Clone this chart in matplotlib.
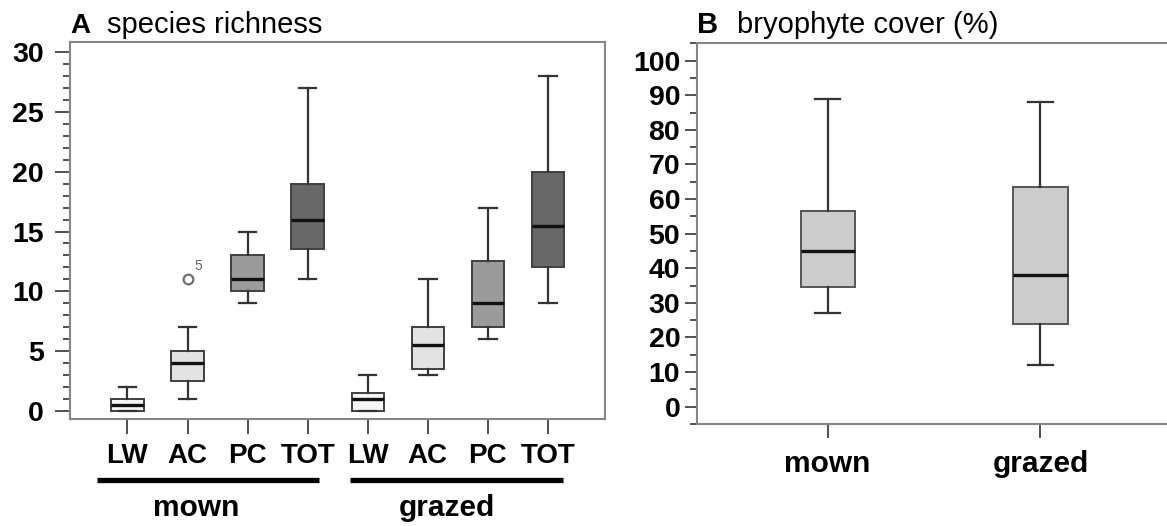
import matplotlib
matplotlib.use("Agg")
import matplotlib.pyplot as plt
from matplotlib.ticker import MultipleLocator

plt.rcParams['font.family'] = ['Liberation Sans', 'DejaVu Sans']

# ---------------- data ----------------
# Panel A: species richness
a_labels = ["LW", "AC", "PC", "TOT", "LW", "AC", "PC", "TOT"]
a_groups = ["mown", "grazed"]
a_whislo = [0, 1, 9, 11, 0, 3, 6, 9]
a_q1     = [0, 2.5, 10, 13.5, 0, 3.5, 7, 12]
a_med    = [0.5, 4, 11, 16, 1, 5.5, 9, 15.5]
a_q3     = [1, 5, 13, 19, 1.5, 7, 12.5, 20]
a_whishi = [2, 7, 15, 27, 3, 11, 17, 28]
a_fliers = [[], [11], [], [], [], [], [], []]
a_flier_label = "5"
a_colors = ["#f6f6f6", "#e3e3e3", "#9b9b9b", "#686868",
            "#f6f6f6", "#e3e3e3", "#9b9b9b", "#686868"]

# Panel B: bryophyte cover (%)
b_labels = ["mown", "grazed"]
b_whislo = [27, 12]
b_q1     = [34.5, 24]
b_med    = [45, 38]
b_q3     = [56.5, 63.5]
b_whishi = [89, 88]

W, H = 1167, 526
fig = plt.figure(figsize=(W / 100, H / 100), dpi=100)


def px_axes(left, top, right, bottom):
    return fig.add_axes([left / W, (H - bottom) / H, (right - left) / W, (bottom - top) / H])


spine_col = "#858585"
tick_col = "#505050"

# ---------------- Panel A ----------------
axA = px_axes(70.4, 41.7, 605, 419)
posA = list(range(1, len(a_labels) + 1))
statsA = []
for i in range(len(a_labels)):
    statsA.append(dict(whislo=a_whislo[i], q1=a_q1[i], med=a_med[i], q3=a_q3[i],
                       whishi=a_whishi[i], fliers=a_fliers[i], label=a_labels[i]))
bpA = axA.bxp(statsA, positions=posA, widths=0.54, patch_artist=True,
              showfliers=True,
              boxprops=dict(edgecolor="#404040", linewidth=1.4),
              whiskerprops=dict(color="#333333", linewidth=1.6),
              capprops=dict(color="#333333", linewidth=1.6),
              medianprops=dict(color="#111111", linewidth=2.4),
              flierprops=dict(marker="o", markerfacecolor="none", markeredgecolor="#707070",
                              markersize=7, markeredgewidth=1.6))
for patch, c in zip(bpA["boxes"], a_colors):
    patch.set_facecolor(c)
for cap in bpA["caps"]:
    x0, x1 = cap.get_xdata()
    xm = (x0 + x1) / 2
    cap.set_xdata([xm - 0.145, xm + 0.145])

# outlier label
for i, fl in enumerate(a_fliers):
    for v in fl:
        axA.annotate(a_flier_label, xy=(posA[i], v), xytext=(7.5, 9.5),
                     textcoords="offset points", ha="center", va="center",
                     fontsize=10, color="#606060")

axA.set_xlim(0.05, 8.95)
axA.set_ylim(-0.7, 30.9)
axA.yaxis.set_major_locator(MultipleLocator(5))
axA.yaxis.set_minor_locator(MultipleLocator(1))
axA.set_xticks(posA)
axA.set_xticklabels(a_labels, fontsize=20, fontweight="bold")
axA.tick_params(axis="y", which="major", length=10.8, width=1.4, color=tick_col,
                labelsize=20.5, pad=8.2)
axA.tick_params(axis="y", which="minor", length=5, width=1.4, color=tick_col)
axA.tick_params(axis="x", which="major", length=10.8, width=1.4, color=tick_col, pad=6.2)
for lab in axA.get_yticklabels():
    lab.set_fontweight("bold")
for s in axA.spines.values():
    s.set_color(spine_col)
    s.set_linewidth(1.5)

# group bars and labels
n_per = 4
tr = axA.get_xaxis_transform()
group_ext = [(-0.5, 0.19), (-0.29, 0.25)]
for g, name in enumerate(a_groups):
    p0 = posA[g * n_per]
    p1 = posA[g * n_per + n_per - 1]
    axA.plot([p0 + group_ext[g][0], p1 + group_ext[g][1]], [-0.1617, -0.1617],
             transform=tr, color="black", linewidth=3.8, clip_on=False,
             solid_capstyle="butt")
    cx = (p0 + group_ext[g][0] + p1 + group_ext[g][1]) / 2
    axA.text(cx - 0.2 if g == 0 else cx - 0.17, -0.257, name, transform=tr,
             ha="center", va="baseline", fontsize=21.5, fontweight="bold")

fig.text(70.7 / W, (H - 33) / H, "A", fontsize=20, fontweight="bold",
         ha="left", va="baseline")
fig.text(106.7 / W, (H - 33) / H, "species richness", fontsize=21,
         ha="left", va="baseline")

# ---------------- Panel B ----------------
axB = px_axes(696.8, 43.3, 1172, 424)
posB = list(range(1, len(b_labels) + 1))
statsB = []
for i in range(len(b_labels)):
    statsB.append(dict(whislo=b_whislo[i], q1=b_q1[i], med=b_med[i], q3=b_q3[i],
                       whishi=b_whishi[i], fliers=[], label=b_labels[i]))
bpB = axB.bxp(statsB, positions=posB, widths=0.254, patch_artist=True,
              showfliers=False,
              boxprops=dict(edgecolor="#555555", linewidth=1.4, facecolor="#cccccc"),
              whiskerprops=dict(color="#333333", linewidth=1.6),
              capprops=dict(color="#333333", linewidth=1.6),
              medianprops=dict(color="#111111", linewidth=2.4))
for cap in bpB["caps"]:
    x0, x1 = cap.get_xdata()
    xm = (x0 + x1) / 2
    cap.set_xdata([xm - 0.058, xm + 0.058])

axB.set_xlim(0.385, 2.618)
axB.set_ylim(-5, 105)
axB.yaxis.set_major_locator(MultipleLocator(10))
axB.yaxis.set_minor_locator(MultipleLocator(5))
axB.set_xticks(posB)
axB.set_xticklabels(b_labels, fontsize=21.5, fontweight="bold")
axB.tick_params(axis="y", which="major", length=9, width=1.4, color=tick_col,
                labelsize=20.5, pad=3)
axB.tick_params(axis="y", which="minor", length=5, width=1.4, color=tick_col)
axB.tick_params(axis="x", which="major", length=10, width=1.4, color=tick_col, pad=8.9)
for lab in axB.get_yticklabels():
    lab.set_fontweight("bold")
for s in axB.spines.values():
    s.set_color(spine_col)
    s.set_linewidth(1.5)

fig.text(696.8 / W, (H - 33.3) / H, "B", fontsize=21, fontweight="bold",
         ha="left", va="baseline")
fig.text(736.9 / W, (H - 33.3) / H, "bryophyte cover (%)", fontsize=21,
         ha="left", va="baseline")

fig.savefig("out.png", dpi=100)
